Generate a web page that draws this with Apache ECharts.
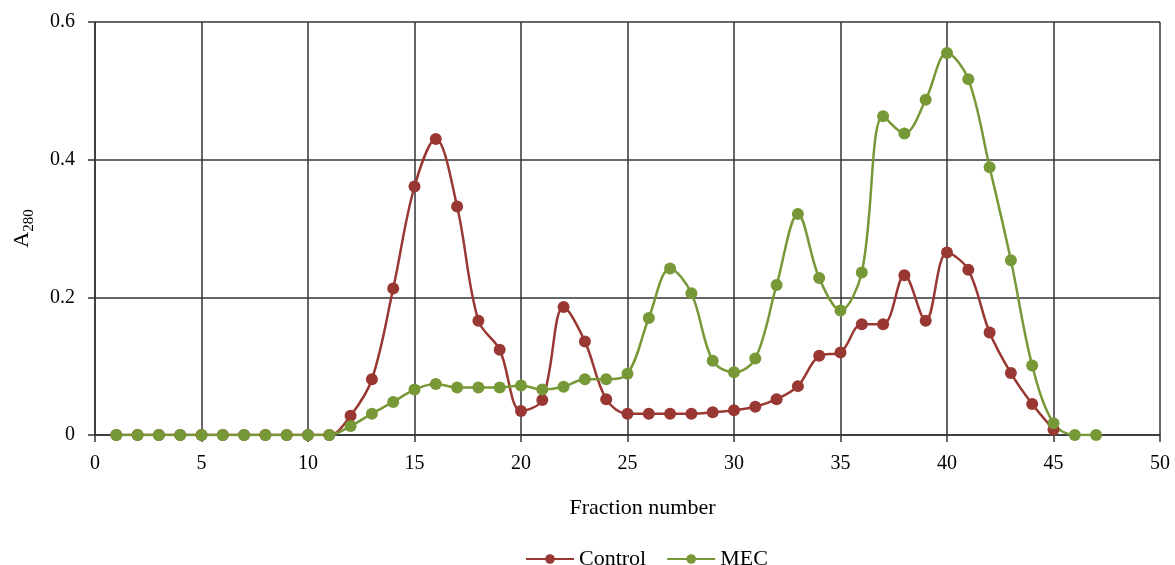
<!DOCTYPE html>
<html>
<head>
<meta charset="utf-8">
<script src="https://cdn.jsdelivr.net/npm/echarts@6/dist/echarts.min.js"></script>
<style>html,body{margin:0;padding:0;background:#fff}#chart{width:1175px;height:565px}</style>
</head>
<body>
<div id="chart"></div>
<script>
var fractions = [1,2,3,4,5,6,7,8,9,10,11,12,13,14,15,16,17,18,19,20,21,22,23,24,25,26,27,28,29,30,31,32,33,34,35,36,37,38,39,40,41,42,43,44,45,46,47];
var control = [0,0,0,0,0,0,0,0,0,0,0,0.028,0.081,0.213,0.361,0.43,0.332,0.166,0.124,0.035,0.051,0.186,0.136,0.052,0.031,0.031,0.031,0.031,0.033,0.036,0.041,0.052,0.071,0.115,0.12,0.161,0.161,0.232,0.166,0.265,0.24,0.149,0.09,0.045,0.008];
var mec = [0,0,0,0,0,0,0,0,0,0,0,0.013,0.031,0.048,0.066,0.074,0.069,0.069,0.069,0.072,0.066,0.07,0.081,0.081,0.089,0.17,0.242,0.206,0.108,0.091,0.111,0.218,0.321,0.228,0.181,0.236,0.463,0.438,0.487,0.555,0.517,0.389,0.254,0.101,0.017,0,0];
var seriesNames = ['Control', 'MEC'];

function pairs(vals){ return vals.map(function(v,i){ return [fractions[i], v]; }); }

var font = '"Liberation Serif", "Times New Roman", serif';
var chart = echarts.init(document.getElementById('chart'), null, {renderer:'canvas'});
chart.setOption({
  animation: false,
  backgroundColor: '#fff',
  textStyle: {fontFamily: font, color: '#000'},
  grid: {left: 95, right: 15, top: 22, bottom: 130},
  legend: {
    data: seriesNames,
    left: 520, top: 543,
    itemWidth: 48, itemHeight: 12, itemGap: 20,
    textStyle: {fontFamily: font, fontSize: 22, color: '#000'}
  },
  xAxis: {
    type: 'value', min: 0, max: 50, interval: 5,
    name: 'Fraction number', nameLocation: 'middle', nameGap: 62,
    nameTextStyle: {fontFamily: font, fontSize: 22, color: '#000', padding: [0,0,0,30]},
    axisLine: {show: true, onZero: false, lineStyle: {color: '#333', width: 1.5}},
    axisTick: {show: true, inside: false, length: 7, lineStyle: {color: '#333', width: 1.5}},
    axisLabel: {fontFamily: font, fontSize: 20, color: '#000', margin: 19},
    splitLine: {show: true, lineStyle: {color: '#333', width: 1.5}}
  },
  yAxis: {
    type: 'value', min: 0, max: 0.6, interval: 0.2,
    name: '{a|A}{s|280}', nameLocation: 'middle', nameGap: 62, nameRotate: 90,
    nameTextStyle: {
      fontFamily: font, color: '#000',
      rich: {
        a: {fontFamily: font, fontSize: 22, color: '#000', verticalAlign: 'bottom', lineHeight: 24},
        s: {fontFamily: font, fontSize: 15, color: '#000', verticalAlign: 'bottom', lineHeight: 15, padding: [0,0,-4,0]}
      }
    },
    axisLine: {show: true, lineStyle: {color: '#333', width: 1.5}},
    axisTick: {show: true, inside: false, length: 7, lineStyle: {color: '#333', width: 1.5}},
    axisLabel: {fontFamily: font, fontSize: 20, color: '#000', margin: 20,
      formatter: function(v){ return v === 0 ? '0' : v.toFixed(1); }},
    splitLine: {show: true, lineStyle: {color: '#333', width: 1.5}}
  },
  series: [
    {
      name: seriesNames[0], type: 'line', data: pairs(control),
      smooth: 0.35, symbol: 'circle', symbolSize: 12,
      lineStyle: {color: '#993833', width: 2.5},
      itemStyle: {color: '#993833'}
    },
    {
      name: seriesNames[1], type: 'line', data: pairs(mec),
      smooth: 0.35, symbol: 'circle', symbolSize: 12,
      lineStyle: {color: '#779837', width: 2.5},
      itemStyle: {color: '#779837'}
    }
  ]
});
</script>
</body>
</html>
